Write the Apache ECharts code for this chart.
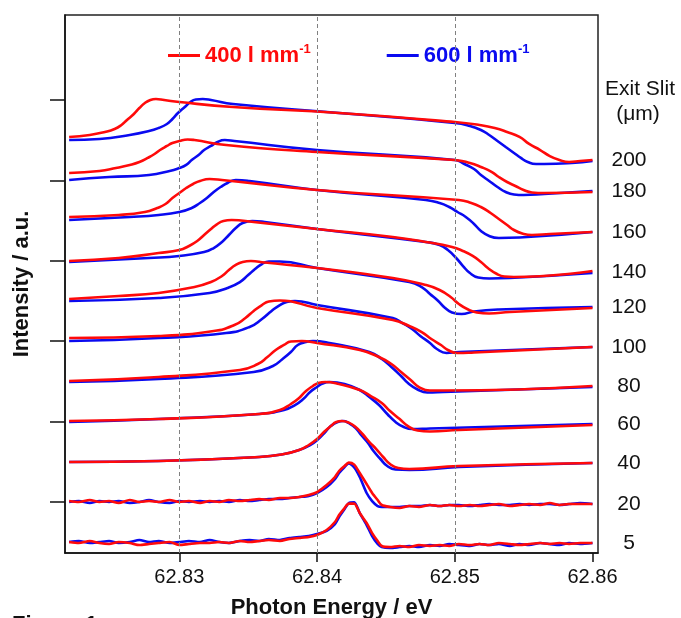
<!DOCTYPE html>
<html><head><meta charset="utf-8">
<script src="https://cdn.jsdelivr.net/npm/echarts@6/dist/echarts.min.js"></script>
<style>html,body{margin:0;padding:0;background:#fff}#c{width:681px;height:618px}</style>
</head><body><div id="c"></div>
<script>
// ---- data ----
const xTicks = [62.83, 62.84, 62.85, 62.86];
const yTicks = [1, 2, 3, 4, 5, 6];
const gridLines = [62.83, 62.84, 62.85];
const slits = ['200','180','160','140','120','100','80','60','40','20','5'];
const name400 = '400 l mm-1';
const name600 = '600 l mm-1';

const r200 = [[62.8220,5.540],[62.8235,5.565],[62.8246,5.602],[62.8253,5.639],[62.8258,5.689],[62.8262,5.751],[62.8267,5.826],[62.8271,5.900],[62.8275,5.963],[62.8279,6.000],[62.8283,6.012],[62.8289,6.000],[62.8300,5.975],[62.8339,5.913],[62.8416,5.838],[62.8500,5.726],[62.8518,5.689],[62.8529,5.652],[62.8538,5.602],[62.8547,5.540],[62.8554,5.453],[62.8562,5.378],[62.8569,5.303],[62.8576,5.254],[62.8583,5.229],[62.8591,5.241],[62.8600,5.254]];
const b200 = [[62.8220,5.502],[62.8242,5.515],[62.8264,5.565],[62.8278,5.614],[62.8285,5.652],[62.8291,5.701],[62.8295,5.764],[62.8299,5.838],[62.8304,5.913],[62.8308,5.975],[62.8312,6.006],[62.8317,6.012],[62.8323,6.000],[62.8339,5.950],[62.8416,5.838],[62.8500,5.714],[62.8511,5.677],[62.8519,5.627],[62.8525,5.565],[62.8531,5.490],[62.8537,5.415],[62.8543,5.341],[62.8548,5.279],[62.8553,5.229],[62.8559,5.204],[62.8565,5.204],[62.8585,5.216],[62.8600,5.241]];
const r180 = [[62.8220,5.092],[62.8242,5.117],[62.8254,5.154],[62.8264,5.192],[62.8271,5.229],[62.8277,5.279],[62.8282,5.328],[62.8286,5.378],[62.8291,5.428],[62.8295,5.465],[62.8300,5.490],[62.8306,5.509],[62.8311,5.502],[62.8334,5.440],[62.8400,5.353],[62.8500,5.254],[62.8511,5.216],[62.8519,5.167],[62.8527,5.104],[62.8532,5.042],[62.8538,4.980],[62.8544,4.930],[62.8550,4.881],[62.8556,4.850],[62.8565,4.843],[62.8600,4.856]];
const b180 = [[62.8220,5.005],[62.8249,5.042],[62.8278,5.067],[62.8293,5.117],[62.8300,5.154],[62.8305,5.192],[62.8309,5.254],[62.8314,5.316],[62.8318,5.378],[62.8323,5.428],[62.8327,5.471],[62.8333,5.502],[62.8340,5.490],[62.8400,5.378],[62.8500,5.254],[62.8507,5.204],[62.8514,5.142],[62.8519,5.067],[62.8525,4.993],[62.8531,4.918],[62.8537,4.856],[62.8543,4.825],[62.8550,4.818],[62.8565,4.831],[62.8600,4.868]];
const r160 = [[62.8220,4.545],[62.8256,4.570],[62.8275,4.607],[62.8284,4.657],[62.8290,4.706],[62.8295,4.781],[62.8300,4.843],[62.8305,4.905],[62.8310,4.955],[62.8315,4.993],[62.8322,5.017],[62.8331,5.005],[62.8400,4.881],[62.8503,4.756],[62.8512,4.719],[62.8519,4.669],[62.8526,4.595],[62.8532,4.520],[62.8538,4.445],[62.8543,4.383],[62.8549,4.340],[62.8556,4.321],[62.8569,4.333],[62.8600,4.358]];
const b160 = [[62.8220,4.507],[62.8264,4.545],[62.8285,4.570],[62.8300,4.607],[62.8309,4.657],[62.8315,4.719],[62.8320,4.781],[62.8325,4.856],[62.8330,4.918],[62.8335,4.968],[62.8341,5.005],[62.8351,4.993],[62.8400,4.881],[62.8479,4.756],[62.8489,4.719],[62.8496,4.669],[62.8502,4.607],[62.8508,4.545],[62.8514,4.458],[62.8519,4.371],[62.8525,4.308],[62.8532,4.284],[62.8547,4.290],[62.8600,4.358]];
const r140 = [[62.8220,3.998],[62.8256,4.035],[62.8285,4.097],[62.8300,4.134],[62.8307,4.184],[62.8313,4.246],[62.8318,4.321],[62.8323,4.396],[62.8327,4.451],[62.8332,4.495],[62.8338,4.507],[62.8354,4.483],[62.8400,4.396],[62.8455,4.296],[62.8479,4.234],[62.8498,4.172],[62.8506,4.122],[62.8513,4.060],[62.8519,3.985],[62.8524,3.910],[62.8530,3.842],[62.8536,3.805],[62.8543,3.799],[62.8600,3.873]];
const b140 = [[62.8220,3.985],[62.8278,4.035],[62.8300,4.060],[62.8318,4.109],[62.8325,4.159],[62.8331,4.234],[62.8336,4.321],[62.8341,4.408],[62.8346,4.470],[62.8353,4.495],[62.8362,4.483],[62.8400,4.396],[62.8479,4.234],[62.8489,4.197],[62.8495,4.134],[62.8501,4.035],[62.8506,3.935],[62.8511,3.848],[62.8517,3.793],[62.8525,3.780],[62.8540,3.786],[62.8600,3.848]];
const r120 = [[62.8220,3.525],[62.8256,3.562],[62.8285,3.600],[62.8311,3.674],[62.8323,3.736],[62.8331,3.811],[62.8336,3.886],[62.8341,3.948],[62.8346,3.985],[62.8352,3.998],[62.8362,3.979],[62.8400,3.910],[62.8455,3.786],[62.8479,3.699],[62.8489,3.637],[62.8497,3.550],[62.8503,3.463],[62.8509,3.401],[62.8516,3.358],[62.8525,3.345],[62.8540,3.363],[62.8600,3.413]];
const b120 = [[62.8220,3.500],[62.8285,3.538],[62.8322,3.600],[62.8335,3.662],[62.8344,3.736],[62.8350,3.823],[62.8355,3.898],[62.8360,3.960],[62.8365,3.991],[62.8373,3.991],[62.8400,3.910],[62.8467,3.736],[62.8476,3.674],[62.8482,3.587],[62.8488,3.500],[62.8493,3.413],[62.8498,3.358],[62.8505,3.338],[62.8514,3.370],[62.8532,3.394],[62.8600,3.425]];
const r100 = [[62.8220,3.040],[62.8285,3.065],[62.8325,3.127],[62.8340,3.201],[62.8348,3.289],[62.8354,3.376],[62.8360,3.450],[62.8365,3.494],[62.8373,3.506],[62.8400,3.413],[62.8455,3.264],[62.8467,3.189],[62.8476,3.114],[62.8483,3.027],[62.8490,2.953],[62.8495,2.891],[62.8502,2.853],[62.8514,2.860],[62.8600,2.928]];
const b100 = [[62.8220,3.002],[62.8285,3.040],[62.8334,3.102],[62.8351,3.177],[62.8360,3.276],[62.8367,3.376],[62.8373,3.450],[62.8378,3.488],[62.8384,3.500],[62.8400,3.450],[62.8455,3.289],[62.8462,3.226],[62.8469,3.152],[62.8475,3.065],[62.8482,2.978],[62.8487,2.903],[62.8494,2.853],[62.8503,2.866],[62.8600,2.928]];
const r80 = [[62.8220,2.505],[62.8285,2.555],[62.8344,2.642],[62.8357,2.716],[62.8364,2.803],[62.8370,2.891],[62.8376,2.953],[62.8381,2.997],[62.8389,3.002],[62.8400,2.978],[62.8431,2.891],[62.8445,2.803],[62.8454,2.716],[62.8461,2.617],[62.8468,2.517],[62.8474,2.430],[62.8482,2.387],[62.8492,2.387],[62.8600,2.443]];
const b80 = [[62.8220,2.493],[62.8285,2.530],[62.8354,2.617],[62.8368,2.692],[62.8375,2.779],[62.8381,2.866],[62.8386,2.953],[62.8392,2.990],[62.8397,3.002],[62.8409,2.978],[62.8438,2.866],[62.8447,2.779],[62.8454,2.679],[62.8461,2.567],[62.8466,2.480],[62.8473,2.399],[62.8480,2.362],[62.8492,2.368],[62.8600,2.430]];
const r60 = [[62.8220,2.007],[62.8285,2.032],[62.8358,2.095],[62.8373,2.144],[62.8381,2.219],[62.8387,2.294],[62.8392,2.381],[62.8397,2.443],[62.8401,2.480],[62.8406,2.493],[62.8416,2.468],[62.8431,2.393],[62.8439,2.318],[62.8447,2.231],[62.8453,2.132],[62.8460,2.032],[62.8466,1.945],[62.8473,1.889],[62.8482,1.877],[62.8503,1.896],[62.8600,1.958]];
const b60 = [[62.8220,1.995],[62.8285,2.032],[62.8358,2.095],[62.8376,2.144],[62.8384,2.206],[62.8390,2.281],[62.8395,2.368],[62.8400,2.430],[62.8404,2.474],[62.8409,2.493],[62.8420,2.468],[62.8431,2.393],[62.8438,2.306],[62.8445,2.206],[62.8451,2.095],[62.8457,1.995],[62.8463,1.933],[62.8469,1.908],[62.8482,1.915],[62.8600,1.970]];
const r40 = [[62.8220,1.498],[62.8285,1.510],[62.8358,1.560],[62.8376,1.597],[62.8387,1.647],[62.8394,1.709],[62.8400,1.784],[62.8405,1.871],[62.8410,1.945],[62.8414,1.995],[62.8418,2.007],[62.8423,1.988],[62.8428,1.933],[62.8433,1.846],[62.8438,1.746],[62.8443,1.659],[62.8448,1.560],[62.8453,1.473],[62.8459,1.423],[62.8467,1.411],[62.8503,1.448],[62.8600,1.485]];
const b40 = [[62.8220,1.498],[62.8285,1.510],[62.8358,1.560],[62.8376,1.597],[62.8387,1.647],[62.8395,1.709],[62.8401,1.784],[62.8406,1.871],[62.8410,1.945],[62.8415,1.995],[62.8419,2.007],[62.8423,1.983],[62.8428,1.920],[62.8432,1.833],[62.8437,1.734],[62.8441,1.634],[62.8446,1.535],[62.8451,1.448],[62.8457,1.404],[62.8467,1.398],[62.8503,1.436],[62.8600,1.485]];

// noisy traces sampled on a common energy grid
const noisyX = [62.8220,62.8227,62.8235,62.8242,62.8249,62.8256,62.8264,62.8271,62.8278,62.8285,62.8293,62.8300,62.8307,62.8315,62.8322,62.8329,62.8336,62.8344,62.8351,62.8358,62.8365,62.8373,62.8380,62.8387,62.8394,
  62.8400,62.8407,62.8413,62.8416,62.8420,62.8423,62.8427,62.8431,62.8436,62.8440,62.8444,62.8447,62.8453,
  62.8460,62.8467,62.8474,62.8482,62.8489,62.8496,62.8503,62.8511,62.8518,62.8525,62.8532,62.8540,62.8547,62.8554,62.8562,62.8569,62.8576,62.8583,62.8591,62.8600];
const r20 = [1.012,1.000,1.025,1.000,1.012,0.988,1.025,1.000,1.012,1.000,1.025,1.000,1.012,0.988,1.012,1.000,1.025,1.012,1.025,1.037,1.025,1.050,1.050,1.062,1.087,
  1.124,1.211,1.311,1.386,1.448,1.490,1.465,1.361,1.224,1.112,1.025,0.963,0.938,
  0.925,0.950,0.938,0.963,0.950,0.963,0.950,0.963,0.950,0.963,0.975,0.950,0.963,0.975,0.963,0.988,0.963,0.975,0.975,0.975];
const b20 = [1.000,1.012,0.988,1.012,1.000,1.012,0.988,1.000,1.025,1.000,0.988,1.012,1.000,1.012,1.000,1.012,1.000,1.025,1.012,1.025,1.037,1.037,1.050,1.062,1.075,
  1.112,1.187,1.286,1.361,1.436,1.480,1.430,1.311,1.112,1.012,0.950,0.938,0.938,
  0.938,0.950,0.950,0.963,0.950,0.963,0.963,0.950,0.963,0.975,0.963,0.963,0.975,0.963,0.975,0.975,0.963,0.975,0.988,0.975];
const r5 = [0.502,0.490,0.515,0.490,0.478,0.502,0.490,0.465,0.478,0.490,0.502,0.465,0.478,0.490,0.490,0.502,0.490,0.515,0.502,0.515,0.527,0.515,0.540,0.552,0.565,
  0.590,0.652,0.751,0.838,0.925,0.980,0.980,0.863,0.739,0.614,0.515,0.453,0.440,
  0.453,0.440,0.465,0.453,0.465,0.453,0.478,0.465,0.478,0.465,0.490,0.478,0.465,0.478,0.490,0.478,0.490,0.478,0.490,0.490];
const b5 = [0.502,0.515,0.490,0.502,0.515,0.490,0.502,0.527,0.502,0.515,0.490,0.502,0.515,0.502,0.527,0.502,0.490,0.515,0.527,0.515,0.540,0.527,0.552,0.565,0.577,
  0.602,0.640,0.726,0.813,0.913,0.985,0.995,0.863,0.714,0.577,0.478,0.440,0.428,
  0.440,0.453,0.440,0.465,0.453,0.478,0.465,0.453,0.478,0.465,0.478,0.453,0.478,0.465,0.490,0.478,0.465,0.490,0.478,0.490];

// ---- build ----
const zipX = ys => ys.map((y, i) => [noisyX[i], y]);
const redSets = [r200, r180, r160, r140, r120, r100, r80, r60, r40, zipX(r20), zipX(r5)];
const blueSets = [b200, b180, b160, b140, b120, b100, b80, b60, b40, zipX(b20), zipX(b5)];
const RED = '#ff0a0a', BLUE = '#0a0af0';
const FONT = '"Liberation Sans", Arial, Helvetica, sans-serif';

const endYs = slits.map((s, i) => {
  const r = redSets[i], b = blueSets[i];
  return (r[r.length - 1][1] + b[b.length - 1][1]) / 2;
});

const series = [];
series.push({
  type: 'line', data: [], z: 1, silent: true,
  markLine: {
    silent: true, symbol: ['none', 'none'], label: { show: false },
    lineStyle: { type: [4, 3], color: '#808080', width: 1 },
    data: gridLines.map(v => ({ xAxis: v }))
  }
});
slits.forEach((s, i) => {
  const noisy = i >= 9;
  series.push({
    name: name600, type: 'line', data: blueSets[i], showSymbol: false, symbol: 'none',
    smooth: noisy ? 0.25 : 0.5, z: 3, color: BLUE,
    lineStyle: { color: BLUE, width: 2.6 }
  });
});
slits.forEach((s, i) => {
  const noisy = i >= 9;
  series.push({
    name: name400, type: 'line', data: redSets[i], showSymbol: false, symbol: 'none',
    smooth: noisy ? 0.25 : 0.5, z: 4, color: RED,
    lineStyle: { color: RED, width: 2.6 }
  });
});

const chart = echarts.init(document.getElementById('c'), null, { renderer: 'canvas' });
chart.setOption({
  animation: false,
  backgroundColor: '#fff',
  grid: { left: 65, right: 83, top: 15, bottom: 65, show: true, borderColor: '#222', borderWidth: 1.5, containLabel: false, outerBoundsMode: 'none' },
  legend: {
    left: 168, top: 43, padding: 0, itemGap: 76, itemWidth: 32, itemHeight: 3, icon: 'rect',
    data: [{ name: name400, itemStyle: { color: RED } }, { name: name600, itemStyle: { color: BLUE } }],
    formatter: n => n === name400 ? '{r|400 l mm}{rs|-1}' : '{b|600 l mm}{bs|-1}',
    textStyle: {
      rich: {
        r: { color: RED, fontSize: 22, fontWeight: 'bold', fontFamily: FONT },
        rs: { color: RED, fontSize: 13, fontWeight: 'bold', fontFamily: FONT, padding: [0, 0, 12, 0] },
        b: { color: BLUE, fontSize: 22, fontWeight: 'bold', fontFamily: FONT },
        bs: { color: BLUE, fontSize: 13, fontWeight: 'bold', fontFamily: FONT, padding: [0, 0, 12, 0] }
      }
    },
    selectedMode: false
  },
  xAxis: {
    type: 'value', min: 62.8217, max: 62.8604,
    name: 'Photon Energy / eV', nameLocation: 'middle', nameGap: 44,
    nameTextStyle: { fontSize: 22, fontWeight: 'bold', color: '#111', fontFamily: FONT },
    axisLine: { show: true, lineStyle: { color: '#111', width: 1.5 } },
    axisTick: { show: true, customValues: xTicks, length: 9, inside: false, lineStyle: { color: '#111', width: 1.5 } },
    axisLabel: { show: true, customValues: xTicks, margin: 14, fontSize: 20, color: '#111', fontFamily: FONT, formatter: v => v.toFixed(2) },
    splitLine: { show: false }
  },
  yAxis: [{
    type: 'value', min: 0.366, max: 7.057,
    name: 'Intensity / a.u.', nameLocation: 'middle', nameGap: 32,
    nameTextStyle: { fontSize: 22, fontWeight: 'bold', color: '#111', fontFamily: FONT },
    axisLine: { show: true, lineStyle: { color: '#111', width: 1.5 } },
    axisTick: { show: true, customValues: yTicks, length: 15, inside: false, lineStyle: { color: '#111', width: 1.5 } },
    axisLabel: { show: false },
    splitLine: { show: false }
  }, {
    type: 'value', min: 0.366, max: 7.057, position: 'right',
    axisLine: { show: false }, axisTick: { show: false }, splitLine: { show: false },
    axisLabel: {
      show: true, customValues: endYs, align: 'center', margin: 31, fontSize: 21, color: '#111', fontFamily: FONT,
      formatter: v => { let k = 0, d = 1e9; endYs.forEach((e, i) => { if (Math.abs(e - v) < d) { d = Math.abs(e - v); k = i; } }); return slits[k]; }
    }
  }],
  graphic: [
    { type: 'text', x: 640, y: 89, style: { text: 'Exit Slit', fontSize: 21, fontFamily: FONT, fill: '#111', align: 'center', verticalAlign: 'middle' } },
    { type: 'text', x: 638, y: 114, style: { text: '(μm)', fontSize: 21, fontFamily: FONT, fill: '#111', align: 'center', verticalAlign: 'middle' } },
    { type: 'text', x: 12, y: 614, style: { text: 'Figure 1', fontSize: 22, fontWeight: 'bold', fontFamily: FONT, fill: '#111', align: 'left', verticalAlign: 'top' } }
  ],
  series: series
});
</script>
</body></html>
